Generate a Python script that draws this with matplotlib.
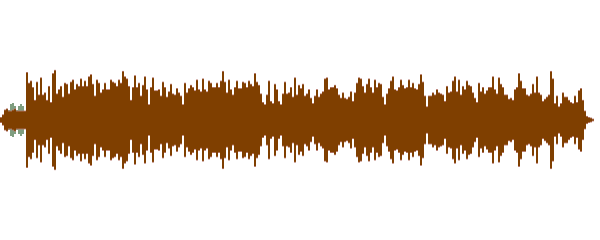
import numpy as np
import matplotlib
matplotlib.use("Agg")
import matplotlib.pyplot as plt

# waveform peak amplitude per 2-sample block
# (full scale = 120), split into chunks along the time axis
seg1 = [2, 4.5, 9, 10, 8, 8, 9, 10, 8, 8, 8, 8, 8, 44, 34, 36, 30, 18, 35, 23,
        39, 23, 25, 18, 31, 16, 43, 46, 24, 28, 31, 21, 34, 33, 24]
seg2 = [35, 37, 28, 33, 31, 38, 31, 36, 31, 40, 42, 33, 22, 37, 34, 25, 28, 34,
        28, 28, 37, 35, 34, 31, 37, 34, 45, 40, 38, 31, 18, 30, 41, 30, 34]
seg3 = [22, 32, 40, 28, 14, 30, 39, 27, 27, 28, 22, 35, 30, 21, 26, 33, 24, 23,
        29, 25, 22, 14, 34, 25, 29, 32, 30, 27, 37, 28, 26, 38, 28, 26, 36]
seg4 = [34, 30, 30, 34, 30, 36, 45, 35, 25, 37, 28, 23, 30, 36, 29, 29, 35, 34,
        30, 36, 33, 31, 43, 35, 32, 24, 16, 14, 23, 36, 17, 15, 33, 28, 17]
seg5 = [14, 24, 35, 24, 25, 30, 21, 39, 23, 32, 29, 33, 22, 24, 28, 20, 15, 22,
        28, 21, 24, 26, 38, 39, 28, 30, 30, 32, 29, 23, 20, 25, 20, 19, 21]
seg6 = [26, 17, 25, 34, 39, 38, 31, 25, 33, 38, 30, 25, 37, 30, 34, 33, 21, 14,
        24, 29, 36, 40, 28, 27, 30, 37, 32, 29, 30, 37, 30, 34, 29, 28, 33]
seg7 = [42, 35, 22, 12, 22, 22, 25, 23, 28, 25, 24, 23, 17, 31, 25, 26, 36, 40,
        26, 37, 23, 31, 28, 36, 32, 31, 25, 20, 16, 34, 26, 30, 24, 27, 30]
seg8 = [30, 40, 28, 24, 39, 33, 30, 23, 23, 19, 20, 18, 28, 30, 43, 36, 29, 29,
        23, 22, 24, 33, 25, 40, 25]
seg9 = [23, 17, 19, 21, 23, 45, 38, 15, 22, 12, 15, 25, 21, 21, 18, 16, 15, 22,
        16, 27, 29, 18, 8, 3, 2, 1.5, 0.5]

# second (green) channel, only visible in the quiet intro
intro_green = [2, 4.5, 9.5, 10, 9, 15, 16, 13, 9, 13, 15, 13, 8]

amp = np.array(seg1 + seg2 + seg3 + seg4 + seg5 + seg6 + seg7 + seg8 + seg9)
green = np.array(intro_green)

block = 2
edges = np.arange(len(amp) + 1) * block
g_edges = np.arange(len(green) + 1) * block

fig = plt.figure(figsize=(6, 2.4), dpi=100)
ax = fig.add_axes([0, 0, 1, 1])

# green channel behind
ax.stairs(green, g_edges, baseline=-green, fill=True, color="#7f9e80")
# thin pinkish rim on the peaks
ax.stairs(amp + 0.8, edges, baseline=-(amp + 0.8), fill=True, color="#b87a70")
# main brown waveform
ax.stairs(amp, edges, baseline=-amp, fill=True, color="#7f3f00")

ax.set_xlim(0, 600)
ax.set_ylim(-112, 112)
ax.axis("off")

fig.savefig("out.png", dpi=100)
